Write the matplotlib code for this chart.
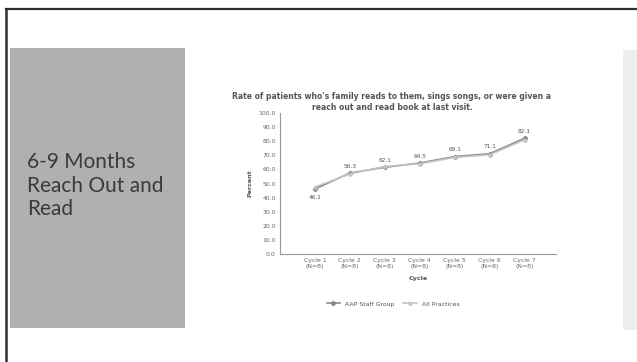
import numpy as np
import matplotlib
matplotlib.use('Agg')
import matplotlib.pyplot as plt
from matplotlib.lines import Line2D
from matplotlib.patches import Rectangle

# data
cycles = ['Cycle 1\n(N=8)', 'Cycle 2\n(N=8)', 'Cycle 3\n(N=8)', 'Cycle 4\n(N=8)',
          'Cycle 5\n(N=8)', 'Cycle 6\n(N=8)', 'Cycle 7\n(N=8)']
aap_staff = [46.1, 57.4, 61.5, 64.5, 69.1, 71.1, 82.1]
all_practices = [47.5, 56.8, 62.1, 64.0, 68.5, 70.4, 81.0]
point_labels = ['46.1', '56.3', '62.1', '64.5', '69.1', '71.1', '82.1']
y_ticks = np.arange(0, 101, 10)

title = ("Rate of patients who's family reads to them, sings songs, or were given a\n"
         "reach out and read book at last visit.")
slide_text = "6-9 Months\nReach Out and\nRead"

fig = plt.figure(figsize=(6.37, 3.62), dpi=100)
fig.patch.set_facecolor('white')

# slide decorations: border, grey left panel, faint right strip
fig.add_artist(Line2D([6/637, 1], [1 - 9/362, 1 - 9/362], transform=fig.transFigure,
                      color='#2e2e2e', lw=1.6))
fig.add_artist(Line2D([6/637, 6/637], [0, 1 - 9/362], transform=fig.transFigure,
                      color='#2e2e2e', lw=1.8))
fig.add_artist(Rectangle((10/637, 1 - 328/362), 175/637, 280/362, transform=fig.transFigure,
                         facecolor='#b0b0b0', edgecolor='none'))
fig.add_artist(Rectangle((623/637, 1 - 330/362), 14/637, 280/362, transform=fig.transFigure,
                         facecolor='#efefef', edgecolor='none'))
fig.text(27/637, 1 - 152/362, slide_text, family='Lato', fontsize=15, color='#3a3a3a',
         va='top', ha='left', linespacing=1.22)

# chart
ax = fig.add_axes([280/637, 1 - 254/362, 276/637, 141/362])
x = np.arange(len(cycles))
ax.plot(x, aap_staff, color='#8a8a8a', lw=1.2, marker='D', ms=2.2, label='AAP Staff Group')
ax.plot(x, all_practices, color='#c4c4c4', lw=1.2, marker='^', ms=2.2, label='All Practices')
for i, (v, lab) in enumerate(zip(aap_staff, point_labels)):
    dy = -6 if i == 0 else 5
    ax.text(i, v + dy, lab, ha='center', va='center', fontsize=4.2, color='#555555')

ax.set_xlim(-1, 6.9)
ax.set_ylim(0, 100)
ax.set_yticks(y_ticks)
ax.set_yticklabels(['%.1f' % t for t in y_ticks])
ax.set_xticks(x)
ax.set_xticklabels(cycles)
ax.tick_params(axis='both', labelsize=4.4, colors='#666666', length=0, pad=3)
for s in ['top', 'right']:
    ax.spines[s].set_visible(False)
for s in ['left', 'bottom']:
    ax.spines[s].set_color('#999999')
    ax.spines[s].set_linewidth(0.8)
ax.set_ylabel('Percent', fontsize=4.6, fontweight='bold', color='#555555', labelpad=4)
ax.set_xlabel('Cycle', fontsize=4.6, fontweight='bold', color='#555555', labelpad=5)

fig.text(392/637, 1 - 102/362, title, ha='center', va='center', fontsize=5.5,
         fontweight='bold', color='#555555', linespacing=1.3)

ax.legend(loc='center', bbox_to_anchor=(393/637, 1 - 304/362), bbox_transform=fig.transFigure,
          ncol=2, fontsize=4.4, frameon=False, handlelength=2.2, columnspacing=1.5,
          labelcolor='#555555')

fig.savefig('out.png', dpi=100)
